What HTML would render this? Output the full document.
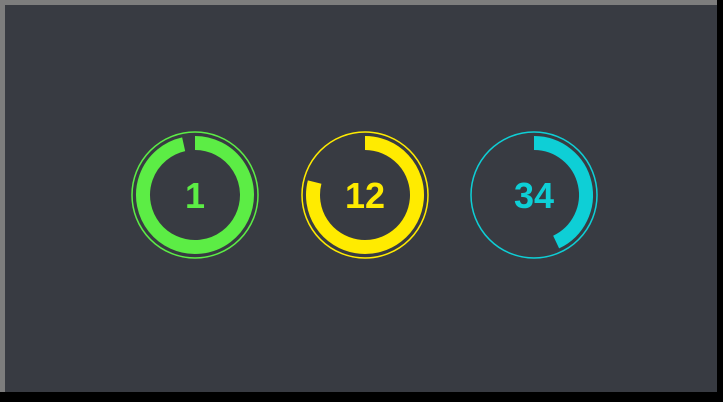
<!DOCTYPE html>
<html><head><meta charset="utf-8"><style>
html,body{margin:0;padding:0;width:723px;height:402px;overflow:hidden;background:#000}
svg{display:block}
</style></head><body>
<svg width="723" height="402" id="chart">
<rect x="0" y="0" width="723" height="402" fill="#000"/>
<rect x="0" y="0" width="717" height="392" fill="#7d7d7d"/>
<rect x="5" y="5" width="712" height="387" fill="#383b42"/>
</svg>
<script>
const labels = ["1", "12", "34"];
const fractions = [0.965, 0.79, 0.43];
const colors = ["#5ced45", "#ffeb00", "#0ecfd6"];
const svg = document.getElementById('chart');
const NS = 'http://www.w3.org/2000/svg';
const cxs = [195, 365, 534], cy = 195;
function pt(r, f, cx){ const a = f*2*Math.PI; return [cx + r*Math.sin(a), cy - r*Math.cos(a)]; }
fractions.forEach((f, i) => {
  const cx = cxs[i];
  const g = document.createElementNS(NS, 'g');
  
  
  const c = document.createElementNS(NS, 'circle');
  c.setAttribute('cx', cx); c.setAttribute('cy', cy); c.setAttribute('r', 63);
  c.setAttribute('fill', 'none'); c.setAttribute('stroke', colors[i]); c.setAttribute('stroke-width', 1.5);
  
  
  g.appendChild(c);
  const r = 52, ff = Math.min(f, 0.9999);
  const [x0, y0] = pt(r, 0, cx), [x1, y1] = pt(r, ff, cx);
  const p = document.createElementNS(NS, 'path');
  p.setAttribute('d', `M${x0},${y0} A${r},${r} 0 ${ff > 0.5 ? 1 : 0} 1 ${x1},${y1}`);
  p.setAttribute('fill', 'none'); p.setAttribute('stroke', colors[i]); p.setAttribute('stroke-width', 14);
  
  
  g.appendChild(p);
  const t = document.createElementNS(NS, 'text');
  t.setAttribute('x', cx); t.setAttribute('y', cy + 13);
  t.setAttribute('text-anchor', 'middle'); t.setAttribute('fill', colors[i]);
  t.setAttribute('font-family', 'Liberation Sans, sans-serif'); t.setAttribute('font-weight', 'bold'); t.setAttribute('font-size', 36);
  t.textContent = labels[i];
  
  
  g.appendChild(t);
  svg.appendChild(g);
});
</script>
</body></html>
